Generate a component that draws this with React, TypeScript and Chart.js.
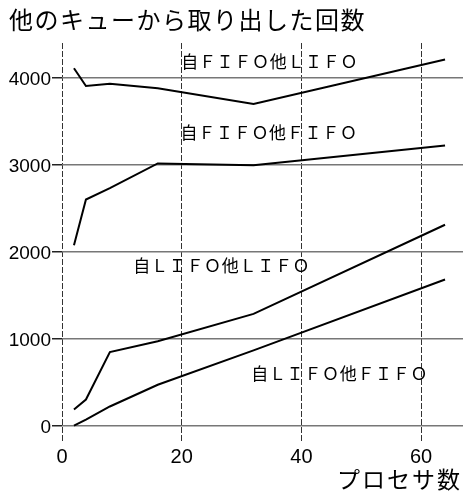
import React, { useEffect, useRef } from "react";
import { Chart, registerables } from "chart.js";

Chart.register(...registerables);

const processors = [2, 4, 8, 16, 32, 64];
const ownFifoOtherLifo = [4110, 3905, 3930, 3880, 3700, 4210];
const ownFifoOtherFifo = [2075, 2600, 2730, 3015, 2995, 3220];
const ownLifoOtherLifo = [185, 300, 845, 970, 1285, 2310];
const ownLifoOtherFifo = [0, 70, 220, 470, 865, 1680];

const seriesNames = [
  "自ＦＩＦＯ他ＬＩＦＯ",
  "自ＦＩＦＯ他ＦＩＦＯ",
  "自ＬＩＦＯ他ＬＩＦＯ",
  "自ＬＩＦＯ他ＦＩＦＯ",
];
const labelAnchorX = [34.7, 34.6, 26.7, 46.4];
const labelAnchorY = [4190, 3375, 1835, 600];

const xTicks = [0, 20, 40, 60];
const yTicks = [0, 1000, 2000, 3000, 4000];

const chartTitle = "他のキューから取り出した回数";
const xTitle = "プロセサ数";

const JP = '"Noto Sans CJK JP", sans-serif';
const LAT = '"Liberation Sans", Arial, sans-serif';

const textPlugin = {
  id: "texts",
  afterDraw(chart: any) {
    const ctx = chart.ctx as CanvasRenderingContext2D;
    const xs = chart.scales.x;
    const ys = chart.scales.y;
    ctx.save();
    ctx.fillStyle = "#000";
    // title
    ctx.font = `24px ${JP}`;
    (ctx as any).letterSpacing = "1.5px";
    ctx.textAlign = "left";
    ctx.textBaseline = "middle";
    ctx.fillText(chartTitle, 9, 20);
    // x axis title
    ctx.font = `23px ${JP}`;
    (ctx as any).letterSpacing = "2px";
    ctx.textAlign = "right";
    ctx.fillText(xTitle, 462, 479);
    // series labels
    ctx.font = `17px ${JP}`;
    (ctx as any).letterSpacing = "0.7px";
    ctx.textAlign = "center";
    for (let i = 0; i < seriesNames.length; i++) {
      const px = xs.getPixelForValue(labelAnchorX[i]);
      const py = ys.getPixelForValue(labelAnchorY[i]);
      ctx.fillText(seriesNames[i], px, py);
    }
    ctx.restore();
  },
};

export default function App() {
  const ref = useRef<HTMLCanvasElement | null>(null);
  useEffect(() => {
    if (!ref.current) return;
    const allSeries = [ownFifoOtherLifo, ownFifoOtherFifo, ownLifoOtherLifo, ownLifoOtherFifo];
    const chart = new Chart(ref.current, {
      type: "line",
      data: {
        datasets: allSeries.map((s, i) => ({
          label: seriesNames[i],
          data: processors.map((p, j) => ({ x: p, y: s[j] })),
          borderColor: "#000",
          borderWidth: 2,
          pointRadius: 0,
          tension: 0,
          fill: false,
        })),
      },
      options: {
        animation: false,
        responsive: false,
        devicePixelRatio: 1,
        layout: { padding: { top: 43, left: 0, right: 0, bottom: 0 } },
        plugins: {
          legend: { display: false },
          title: { display: false },
          tooltip: { enabled: false },
        },
        scales: {
          x: {
            type: "linear",
            min: 0,
            max: 67,
            afterBuildTicks: (axis: any) => {
              axis.ticks = xTicks.map((v) => ({ value: v }));
            },
            afterFit: (axis: any) => {
              axis.height = 54;
            },
            border: { display: false, dash: [6, 2] },
            grid: {
              color: "#333",
              lineWidth: 1,
              drawTicks: false,
            },
            ticks: {
              color: "#000",
              font: { family: LAT, size: 20 },
              padding: 2,
              maxRotation: 0,
              callback: (v: any) => String(v),
            },
          },
          y: {
            type: "linear",
            min: -200,
            max: 4400,
            afterBuildTicks: (axis: any) => {
              axis.ticks = yTicks.map((v) => ({ value: v }));
            },
            afterFit: (axis: any) => {
              axis.width = 62;
            },
            border: { display: false },
            grid: {
              color: "#777",
              lineWidth: 1.5,
              drawTicks: true,
              tickLength: 10,
              tickColor: "#222",
            },
            ticks: {
              color: "#000",
              font: { family: LAT, size: 19 },
              padding: 1,
              labelOffset: 2,
              callback: (v: any) => String(v),
            },
          },
        },
      },
      plugins: [textPlugin],
    });
    return () => chart.destroy();
  }, []);
  return (
    <div style={{ position: "absolute", left: 0, top: 0, width: 463, height: 497, background: "#fff" }}>
      <canvas ref={ref} width={463} height={497} style={{ display: "block" }} />
    </div>
  );
}
